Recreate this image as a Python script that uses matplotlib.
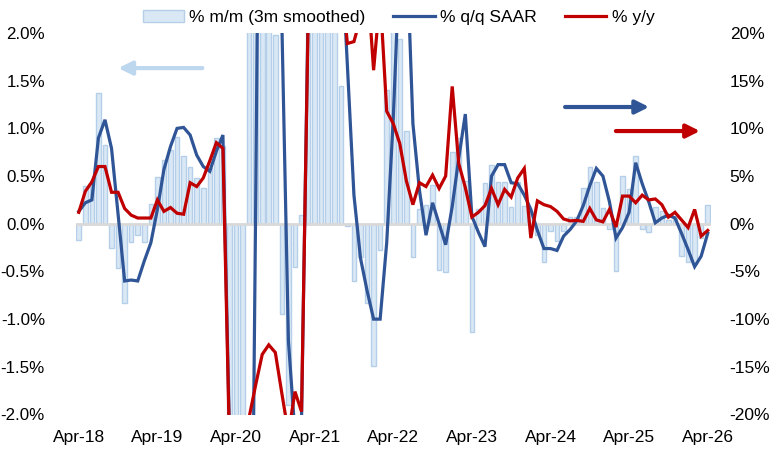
import numpy as np
import pandas as pd
import matplotlib
matplotlib.use("Agg")
import matplotlib.pyplot as plt
from matplotlib.patches import Patch
from matplotlib.lines import Line2D

plt.rcParams['font.family'] = ['Liberation Sans', 'DejaVu Sans']

# monthly, Apr-18 .. Apr-26
months = pd.date_range('2018-04-01', '2026-04-01', freq='MS')
month_labels = [d.strftime('%b-%y') for d in months]

# % m/m (3m smoothed), left axis
mm_3m = [-0.17, 0.40, 0.42, 1.37, 0.83, -0.25, -0.46, -0.83, -0.19, -0.12,
         -0.19, 0.21, 0.49, 0.67, 0.77, 0.91, 0.71, 0.60, 0.48, 0.38,
         0.58, 0.90, 0.81, -2.6, -3.5, -2.8, 3.0, 4.0, 3.0, 2.4,
         1.98, -0.95, -1.9, -0.45, 0.09, 2.5, 3.0, 3.0, 2.6, 2.2,
         1.44, -0.02, -0.60, -0.35, -0.83, -1.49, -0.27, 1.4, 2.2, 1.94,
         0.97, -0.35, 0.15, 0.2, 0.41, -0.49, -0.51, 0.75, 0.9, 0.45,
         -1.14, 0.15, 0.43, 0.62, 0.44, 0.44, 0.18, 0.44, 0.19, 0.1,
         -0.12, -0.40, -0.08, -0.18, -0.08, 0.07, 0.07, 0.38, 0.60, 0.44,
         0.17, -0.06, -0.50, 0.50, 0.36, 0.71, -0.06, -0.09, 0.18, 0.13,
         0.04, 0.08, -0.34, -0.40, -0.42, -0.15, 0.20]

# % q/q SAAR, right axis
qq_saar = [1.3, 2.2, 2.5, 9.0, 10.9, 7.9, 1.0, -6.0, -5.9, -6.0,
           -3.9, -2.0, 1.5, 5.7, 8.1, 10.0, 10.1, 9.3, 7.2, 6.0,
           5.5, 7.6, 9.3, -22, -40, -60, -70, 2, 80, 90,
           60, 21, -12.3, -22, -20.5, 22, 80, 90, 70, 50,
           30, 16.6, 3.0, -3.6, -7.0, -10.0, -10.0, -2.0, 11, 28,
           30, 10.5, 3.5, -1.2, 2.2, 0.0, -2.2, 1.8, 6.9, 11.5,
           0.8, -0.9, -2.4, 5.0, 6.2, 6.2, 4.3, 4.2, 3.0, 1.5,
           -0.7, -2.6, -2.6, -2.8, -1.3, -0.6, 0.3, 1.9, 4.0, 5.8,
           5.0, 2.3, -1.5, -0.4, 1.2, 6.4, 4.2, 2.3, 0.1, 0.6,
           0.9, 0.6, -1.0, -2.7, -4.5, -3.4, -1.0]

# % y/y, right axis
yy = [1.2, 3.4, 4.4, 6.0, 6.0, 3.3, 3.3, 1.6, 0.9, 0.6,
      0.6, 0.6, 2.5, 1.3, 1.7, 1.1, 1.0, 4.3, 3.9, 4.8,
      6.6, 8.5, 7.9, -23, -30, -28, -20.3, -16.9, -13.7, -12.7,
      -13.5, -17.8, -22, -17.6, -19.7, 21, 28, 32, 30, 28,
      26, 18.9, 19.1, 21.6, 26, 16.1, 23.9, 11.8, 10.5, 8.4,
      4.5, 2.0, 4.3, 3.9, 5.1, 3.7, 5.0, 14.4, 6.3, 3.8,
      0.7, 1.2, 1.9, 3.7, 2.0, 3.6, 2.8, 4.8, 5.8, -1.5,
      2.4, 2.0, 1.8, 1.3, 0.5, 0.3, 0.35, 0.25, 1.6, 0.4,
      0.2, 1.5, -0.35, 2.9, 2.9, 2.2, 3.0, 2.5, 2.6, 2.0,
      0.7, 1.2, 0.4, -0.4, 1.5, -1.3, -0.7]

bar_fill = '#dae8f5'
bar_edge = '#b5cfea'
blue = '#2f5597'
red = '#c00000'

x = np.arange(len(months))

fig = plt.figure(figsize=(7.7, 4.51), dpi=100)
ax = fig.add_axes([75.5 / 770, 36.5 / 451, 635.5 / 770, 381.5 / 451])
ax.bar(x, mm_3m, width=0.7, color=bar_fill, edgecolor=bar_edge, linewidth=1.0, zorder=1)
ax.axhline(0, color='#d9d9d9', lw=2, zorder=2)
ax.set_ylim(-2, 2)
ax.set_xlim(-0.5, len(months) - 0.5)
left_ticks = np.arange(-2.0, 2.01, 0.5)
ax.set_yticks(left_ticks)
ax.set_yticklabels([f"{v:.1f}%" for v in left_ticks])
ax.set_xticks(x[::12])
ax.set_xticklabels(month_labels[::12])

ax2 = ax.twinx()
ax2.plot(x, qq_saar, color=blue, lw=2.3, solid_joinstyle='miter', zorder=3)
ax2.plot(x, yy, color=red, lw=2.3, solid_joinstyle='miter', zorder=4)
ax2.set_ylim(-20, 20)
right_ticks = np.arange(-20, 21, 5)
ax2.set_yticks(right_ticks)
ax2.set_yticklabels([f"{v:.0f}%" for v in right_ticks])

for a in (ax, ax2):
    for s in a.spines.values():
        s.set_visible(False)
ax.tick_params(axis='y', length=0, pad=22, labelsize=12.2)
ax.tick_params(axis='x', length=0, pad=11.5, labelsize=12.5)
ax2.tick_params(axis='y', length=0, pad=13.5, labelsize=12.5)

# axis direction arrows
ax.annotate('', xy=(0.063, 0.908), xytext=(0.204, 0.908), xycoords='axes fraction',
            arrowprops=dict(arrowstyle='-|>', color='#bdd7ee', lw=3, mutation_scale=20))
ax.annotate('', xy=(0.907, 0.806), xytext=(0.766, 0.806), xycoords='axes fraction',
            arrowprops=dict(arrowstyle='-|>', color=blue, lw=3, mutation_scale=20))
ax.annotate('', xy=(0.987, 0.743), xytext=(0.846, 0.743), xycoords='axes fraction',
            arrowprops=dict(arrowstyle='-|>', color=red, lw=3, mutation_scale=20))

handles = [Patch(facecolor=bar_fill, edgecolor=bar_edge, linewidth=1.0),
           Line2D([], [], color=blue, lw=2.3),
           Line2D([], [], color=red, lw=2.3)]
labels = ['% m/m (3m smoothed)', '% q/q SAAR', '% y/y']
fig.legend(handles, labels, loc='center', bbox_to_anchor=(0.5175, 0.962), ncol=3,
           frameon=False, fontsize=12.5, handlelength=2.4, handletextpad=0.3,
           columnspacing=1.6, borderpad=0)

fig.savefig('out.png', dpi=100)
